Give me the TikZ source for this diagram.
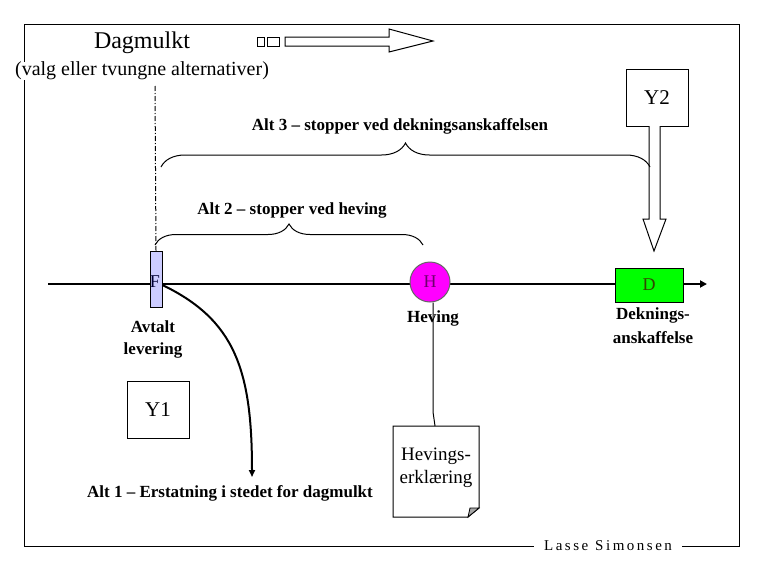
\documentclass[tikz,border=0pt]{standalone}
\usepackage{fontspec}
\setmainfont{Liberation Serif}
\usetikzlibrary{decorations.pathreplacing,arrows.meta}
\definecolor{flav}{RGB}{204,204,255}
\definecolor{hmag}{RGB}{255,0,255}
\definecolor{hpur}{RGB}{110,0,110}
\definecolor{dgreen}{RGB}{0,255,0}
\definecolor{dtext}{RGB}{50,70,0}
\newcommand{\fs}[2]{\fontsize{#1}{#2}\selectfont}
\tikzset{
  thin line/.style={draw=black, line width=1pt},
  boxnode/.style={draw=black, line width=1pt, fill=white, inner sep=0pt},
  lbl/.style={font=\fs{17}{22}\bfseries, align=center, inner sep=0pt},
  bracestyle/.style={decorate, line width=1pt},
}
\begin{document}
\begin{tikzpicture}[x=1pt,y=-1pt]
\useasboundingbox (0,0) rectangle (765,570);
% frame
\draw[thin line] (24,24) rectangle (739,546);
\node[fill=white, inner xsep=10pt, inner ysep=2pt, font=\fs{15}{18}] (sig) at (608,546) {L\,a\,s\,s\,e\hspace{7pt}S\,i\,m\,o\,n\,s\,e\,n};
% title
\node[font=\fs{24}{28}, inner sep=0pt] (title) at (142,43) {Dagmulkt};
\node[font=\fs{20}{24}, inner sep=0pt, fill=white] (sub) at (142,71) {(valg eller tvungne alternativer)};
\node[boxnode, minimum width=7pt, minimum height=9pt] (sq1) at (260.5,41.5) {};
\node[boxnode, minimum width=12pt, minimum height=9pt] (sq2) at (273,41.5) {};
\draw[thin line] (285,37) -- (389,37) -- (389,29) -- (433,41) -- (389,52) -- (389,46) -- (285,46) -- cycle;
% dash-dot line
\coordinate (dtop) at (155,86);
% timeline
\coordinate (tstart) at (48,284);
\coordinate (tend) at (707,284);
\draw[line width=2pt, -{Triangle[length=7pt,width=7pt]}] (tstart) -- (tend);
% F
\node[draw=black, line width=0.8pt, fill=flav, minimum width=12pt, minimum height=56pt, inner sep=0pt] (F) at (156,279) {};
\node[font=\fs{18}{21}, inner sep=0pt, text=black!80!blue] (Fl) at (155,282) {F};
\draw[thin line, dash pattern=on 5pt off 2pt on 1pt off 2pt] (dtop) -- (F.north);
\node[lbl] (avt) at (153,339) {Avtalt\\levering};
% H
\node[circle, draw=black!60, line width=1pt, fill=hmag, minimum size=40pt, inner sep=0pt, font=\fs{18}{21}, text=hpur] (H) at (430,282) {H};
\node[lbl] (hev) at (433,318) {Heving};
% D
\node[draw=black, line width=1pt, fill=dgreen, minimum width=68pt, minimum height=34pt, inner sep=0pt, font=\fs{18}{21}, text=dtext] (D) at (649,285) {D};
\node[lbl] (dek) at (653,326) {Deknings-\\[2pt]anskaffelse};
% Y2 and hollow arrow
\node[boxnode, minimum width=62pt, minimum height=57pt, font=\fs{21}{25}] (Y2) at (657,97.5) {Y2};
\coordinate (y2a) at (654,251);
\draw[thin line, fill=white] (649,126) -- (649,219) -- (643,219) -- (y2a) -- (666,219) -- (660,219) -- (660,126);
% braces
\draw[bracestyle, decoration={brace, amplitude=24pt}] (161,167) -- (650,167);
\node[lbl] (alt3) at (400,126) {Alt 3 -- stopper ved dekningsanskaffelsen};
\draw[bracestyle, decoration={brace, amplitude=21pt}] (155,245) -- (423,245);
\node[lbl] (alt2) at (292,210) {Alt 2 -- stopper ved heving};
% Y1
\node[boxnode, minimum width=62pt, minimum height=57pt, font=\fs{21}{25}] (Y1) at (158,409.5) {Y1};
% curve to Alt 1
\coordinate (a1) at (252,477);
\draw[line width=2pt, -{Triangle[length=7pt,width=6pt]}] (F.east |- 0,285) .. controls (235,320) and (252,370) .. (a1);
\node[lbl] (alt1) at (230,493) {Alt 1 -- Erstatning i stedet for dagmulkt};
% document
\coordinate (doc) at (435,426);
\draw[thin line, fill=white] (393,426) -- (479,426) -- (479,508) -- (468,517) -- (393,517) -- cycle;
\draw[line width=0.8pt, fill=black!35] (479,508) -- (468,517) -- (470,508) -- cycle;
\node[font=\fs{19}{23}, align=center, inner sep=0pt] (docl) at (436,468) {Hevings-\\erklæring};
\draw[thin line] (H.south -| 433,0) -- (433,412) -- (doc);
\end{tikzpicture}
\end{document}
